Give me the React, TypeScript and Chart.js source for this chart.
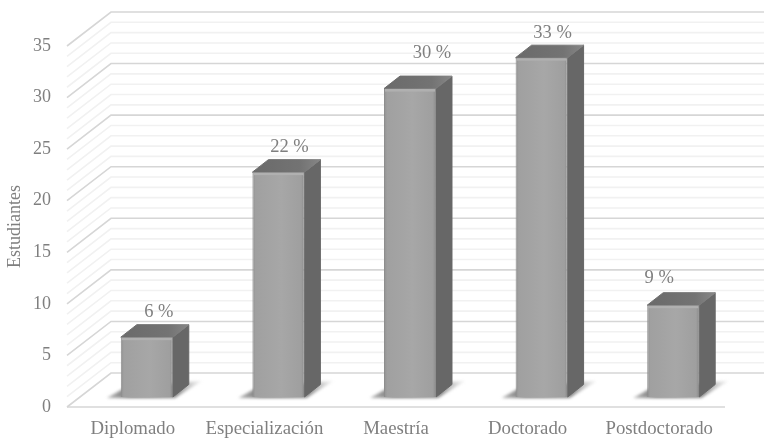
import React, { useEffect, useRef } from "react";
import { Chart, registerables } from "chart.js";

Chart.register(...registerables);

const categories = ["Diplomado", "Especialización", "Maestría", "Doctorado", "Postdoctorado"];
const students = [5.8, 21.8, 29.9, 32.9, 8.9];
const percentLabels = ["6 %", "22 %", "30 %", "33 %", "9 %"];
const yTicks = [0, 5, 10, 15, 20, 25, 30, 35];
const gridValues = Array.from({ length: 36 }, (_, i) => i);

// styling / layout constants
const FONT = "'Liberation Serif', serif";
const TEXT = "#7f7f7f";
const WALL = { dx: 44, dy: -34, right: 764 };
const INSET = { dx: 14, dy: -10 };
const DEPTH = { dx: 16, dy: -12.5 };
const labelNudge = [
  [12, -25],
  [11, -25],
  [22, -35],
  [11, -25],
  [-14, -27],
];

const wallPlugin = {
  id: "wall",
  beforeDatasetsDraw(chart: any) {
    const { ctx, scales } = chart;
    const y = scales.y;
    const x0 = chart.chartArea.left;
    const x1 = x0 + WALL.dx;
    ctx.save();
    ctx.lineCap = "butt";
    for (const v of gridValues) {
      const major = v % 5 === 0;
      const py = y.getPixelForValue(v);
      ctx.strokeStyle = major ? "#d6d6d6" : "#f1f1f1";
      ctx.lineWidth = 1.6;
      ctx.beginPath();
      ctx.moveTo(x0, py);
      ctx.lineTo(x1, py + WALL.dy);
      ctx.lineTo(WALL.right, py + WALL.dy);
      ctx.stroke();
    }
    const p0 = y.getPixelForValue(0);
    ctx.strokeStyle = "#d6d6d6";
    ctx.lineWidth = 1.6;
    ctx.beginPath();
    ctx.moveTo(x0, p0);
    ctx.lineTo(chart.chartArea.right, p0);
    ctx.stroke();
    ctx.restore();
  },
};

const barFacesPlugin = {
  id: "barFaces",
  beforeDatasetDraw(chart: any, args: any) {
    const { ctx } = chart;
    const meta = args.meta;
    // floor shadows
    ctx.save();
    ctx.translate(INSET.dx, INSET.dy);
    ctx.filter = "blur(1.5px)";
    for (const el of meta.data) {
      const l = el.x - el.width / 2;
      const r = el.x + el.width / 2;
      const b = el.base;
      const g = ctx.createLinearGradient(l - 14, 0, r + 28, 0);
      g.addColorStop(0, "rgba(120,120,120,0.55)");
      g.addColorStop(0.25, "rgba(90,90,90,0.85)");
      g.addColorStop(0.75, "rgba(110,110,110,0.8)");
      g.addColorStop(1, "rgba(190,190,190,0.25)");
      ctx.fillStyle = g;
      ctx.beginPath();
      ctx.moveTo(l - 14, b + 1);
      ctx.lineTo(l + 2, b - 8);
      ctx.lineTo(r + 14, b - 15);
      ctx.lineTo(r + 29, b - 16);
      ctx.lineTo(r + 2, b + 1);
      ctx.closePath();
      ctx.fill();
    }
    ctx.filter = "none";
    // side and top faces
    for (const el of meta.data) {
      const l = el.x - el.width / 2;
      const r = el.x + el.width / 2;
      const t = el.y;
      const b = el.base;
      ctx.lineJoin = "round";
      ctx.lineWidth = 1;
      ctx.fillStyle = "#676767";
      ctx.strokeStyle = "#676767";
      ctx.beginPath();
      ctx.moveTo(r, b);
      ctx.lineTo(r, t);
      ctx.lineTo(r + DEPTH.dx, t + DEPTH.dy);
      ctx.lineTo(r + DEPTH.dx, b + DEPTH.dy);
      ctx.closePath();
      ctx.fill();
      ctx.stroke();
      const g = ctx.createLinearGradient(l, 0, r + DEPTH.dx, 0);
      g.addColorStop(0, "#6a6a6a");
      g.addColorStop(0.7, "#737373");
      g.addColorStop(1, "#868686");
      ctx.fillStyle = g;
      ctx.strokeStyle = g;
      ctx.beginPath();
      ctx.moveTo(l, t);
      ctx.lineTo(l + DEPTH.dx, t + DEPTH.dy);
      ctx.lineTo(r + DEPTH.dx, t + DEPTH.dy);
      ctx.lineTo(r, t);
      ctx.closePath();
      ctx.fill();
      ctx.stroke();
    }
    ctx.restore();
    // the library's bars are drawn displaced into the floor depth
    ctx.save();
    ctx.translate(INSET.dx, INSET.dy);
  },
  afterDatasetDraw(chart: any, args: any) {
    const { ctx } = chart;
    for (const el of args.meta.data) {
      const l = el.x - el.width / 2;
      ctx.fillStyle = "#b0b0b0";
      ctx.fillRect(l + 1, el.y + 1, el.width - 2, 2);
    }
    ctx.restore();
    ctx.save();
    ctx.fillStyle = TEXT;
    ctx.font = `18.5px ${FONT}`;
    ctx.textAlign = "center";
    ctx.textBaseline = "middle";
    args.meta.data.forEach((el: any, i: number) => {
      const px = el.x + INSET.dx + labelNudge[i][0];
      const py = el.y + INSET.dy + labelNudge[i][1];
      ctx.fillText(percentLabels[i], px, py);
    });
    ctx.restore();
  },
};

function frontFill(c: any) {
  const chart = c.chart;
  if (!chart.chartArea || c.dataIndex === undefined) return "#a3a3a3";
  const band = chart.chartArea.width / categories.length;
  const cx = chart.chartArea.left + band * (c.dataIndex + 0.5);
  const hw = (band * 0.395) / 2;
  const g = chart.ctx.createLinearGradient(cx - hw, 0, cx + hw, 0);
  g.addColorStop(0, "#909090");
  g.addColorStop(0.06, "#a0a0a0");
  g.addColorStop(0.55, "#a7a7a7");
  g.addColorStop(0.94, "#9f9f9f");
  g.addColorStop(1, "#8a8a8a");
  return g;
}

export default function App() {
  const ref = useRef<HTMLCanvasElement | null>(null);
  useEffect(() => {
    if (!ref.current) return;
    const chart = new Chart(ref.current, {
      type: "bar",
      data: {
        labels: categories,
        datasets: [
          {
            label: "Estudiantes",
            data: students,
            backgroundColor: frontFill,
            borderColor: "#8e8e8e",
            borderWidth: 1,
            barPercentage: 0.395,
            categoryPercentage: 1,
            clip: false,
          } as any,
        ],
      },
      options: {
        responsive: false,
        animation: false,
        devicePixelRatio: 1,
        layout: { padding: { top: 46, right: 39, left: 0, bottom: 0 } },
        plugins: { legend: { display: false }, tooltip: { enabled: false } },
        scales: {
          x: {
            grid: { display: false, drawTicks: false },
            border: { display: false },
            ticks: {
              color: TEXT,
              font: { family: FONT, size: 18.8 },
              padding: 11,
              maxRotation: 0,
              autoSkip: false,
            },
            afterFit(s: any) {
              s.height = 31;
            },
          },
          y: {
            min: 0,
            max: 35,
            grid: { display: false, drawTicks: false },
            border: { display: false },
            afterBuildTicks(s: any) {
              s.ticks = yTicks.map((value) => ({ value }));
            },
            ticks: {
              color: TEXT,
              font: { family: FONT, size: 18 },
              padding: 16,
            },
            title: {
              display: true,
              text: "Estudiantes",
              color: TEXT,
              font: { family: FONT, size: 18 },
              padding: { top: 4, bottom: 0 },
            },
            afterFit(s: any) {
              s.width = 67;
            },
          },
        },
      } as any,
      plugins: [wallPlugin, barFacesPlugin] as any,
    });
    return () => chart.destroy();
  }, []);
  return (
    <div style={{ position: "absolute", left: 0, top: 0, width: 764, height: 438, background: "#fff" }}>
      <canvas ref={ref} width={764} height={438} style={{ display: "block", filter: "blur(0.45px)" }} />
    </div>
  );
}
